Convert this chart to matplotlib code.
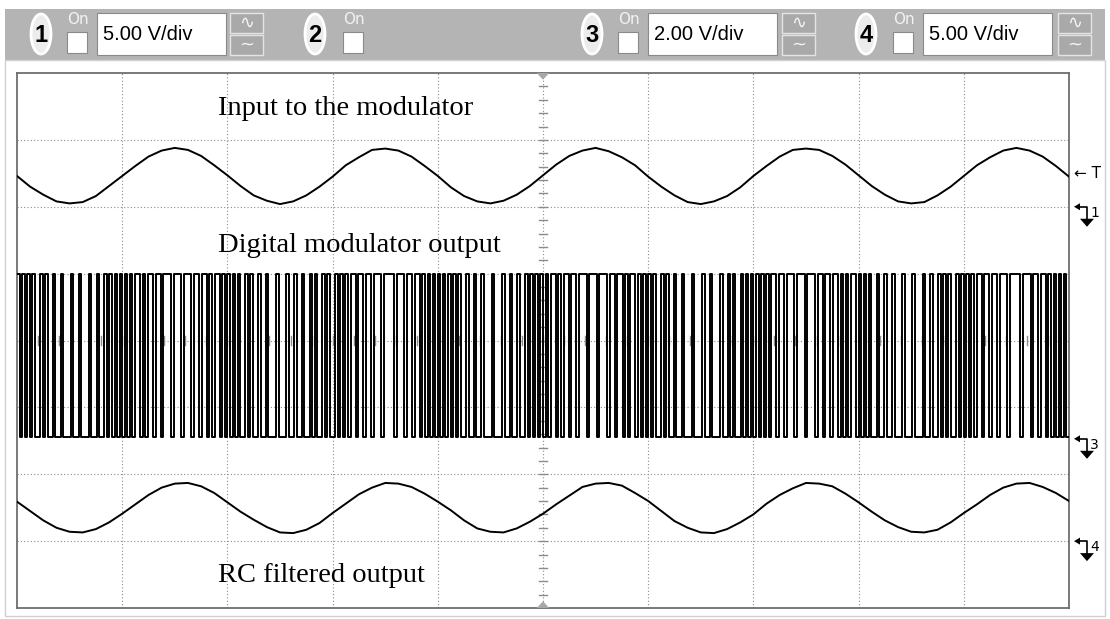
import matplotlib
matplotlib.use('Agg')
import matplotlib.pyplot as plt
from matplotlib.patches import Rectangle, Ellipse, Polygon

W, H = 1110, 619

# header: channel number, V/div box (None = channel without a scale box)
channels = ['1', '2', '3', '4']
volts_per_div = ['5.00 V/div', None, '2.00 V/div', '5.00 V/div']

labels = ['Input to the modulator', 'Digital modulator output', 'RC filtered output']

# sample positions along the screen, in divisions (1/8 div apart)
x_div = [i / 8 for i in range(81)]

# channel 1: modulator input, vertical position in divisions
input_wave = [
    6.46, 6.30, 6.18, 6.08, 6.05, 6.07, 6.16, 6.31, 6.46, 6.61, 6.75, 6.84, 6.88, 6.85, 6.76, 6.62,
    6.47, 6.31, 6.17, 6.09, 6.04, 6.08, 6.17, 6.30, 6.45, 6.62, 6.74, 6.85, 6.87, 6.84, 6.75, 6.61,
    6.46, 6.29, 6.16, 6.08, 6.05, 6.09, 6.18, 6.31, 6.47, 6.63, 6.76, 6.84, 6.88, 6.83, 6.74, 6.62,
    6.45, 6.30, 6.17, 6.07, 6.04, 6.08, 6.16, 6.29, 6.46, 6.61, 6.75, 6.85, 6.87, 6.85, 6.76, 6.63,
    6.47, 6.31, 6.18, 6.08, 6.05, 6.07, 6.17, 6.30, 6.46, 6.62, 6.74, 6.84, 6.88, 6.84, 6.75, 6.61,
    6.45,
]

# channel 4: RC filtered output
filtered_wave = [
    1.59, 1.45, 1.31, 1.20, 1.14, 1.13, 1.18, 1.28, 1.41, 1.55, 1.69, 1.80, 1.86, 1.87, 1.82, 1.72,
    1.58, 1.44, 1.32, 1.21, 1.13, 1.12, 1.17, 1.27, 1.42, 1.56, 1.70, 1.80, 1.87, 1.86, 1.81, 1.71,
    1.59, 1.46, 1.31, 1.19, 1.14, 1.13, 1.19, 1.29, 1.41, 1.55, 1.68, 1.81, 1.86, 1.87, 1.83, 1.72,
    1.60, 1.45, 1.30, 1.20, 1.13, 1.12, 1.18, 1.28, 1.40, 1.56, 1.69, 1.79, 1.87, 1.86, 1.82, 1.71,
    1.58, 1.44, 1.31, 1.21, 1.14, 1.13, 1.17, 1.28, 1.42, 1.55, 1.69, 1.80, 1.86, 1.87, 1.81, 1.72,
    1.60,
]

# channel 3: modulator bit stream, one string per horizontal division
bits = [
    '10101010010100100100010010001001001010101',
    '01010110101101101110111011101101101011010',
    '10101001010010010001000100100100101001010',
    '01010101101101101110111101110110110101010',
    '10101010100100100100010001001001001010101',
    '01011010110110111011101110110110101101010',
    '10100101001001000100010010001001010010101',
    '01010101101101110111011101101101101010110',
    '10101001001001000100010001001001010100101',
    '01010110110110111011110111011011010101010',
]
digital_low, digital_high = 2.56, 5.0

# ground reference markers on the right edge (channel, level in div)
ground_marks = [('1', 6.0), ('3', 2.53), ('4', 1.0)]
trigger_level = 6.49

fig = plt.figure(figsize=(W / 100, H / 100), dpi=100)

# pixel-space layer for the window chrome
bg = fig.add_axes([0, 0, 1, 1])
bg.set_xlim(0, W)
bg.set_ylim(H, 0)
bg.axis('off')

bg.add_patch(Rectangle((5, 9), 1100, 51, facecolor='#b4b4b4', edgecolor='none'))
bg.add_patch(Rectangle((5, 60), 1100, 556, facecolor='white', edgecolor='#d0d0d0', lw=1))

badge_x = [41, 315, 592, 866]
check_x = [67, 343, 618, 893]
box_x = [97, None, 648, 923]
btn_x = [230, None, 782, 1058]
for ch, vd, bx, cx, tx, kx in zip(channels, volts_per_div, badge_x, check_x, box_x, btn_x):
    bg.add_patch(Ellipse((bx, 34), 20, 40, facecolor='#ececec', edgecolor='white', lw=2))
    bg.text(bx, 35, ch, ha='center', va='center', fontsize=17, fontweight='bold',
            family=['Liberation Sans Narrow', 'Liberation Sans'], color='black')
    bg.text(cx, 20, 'On', ha='left', va='center', fontsize=11, color='#f2f2f2',
            family='DejaVu Sans')
    bg.add_patch(Rectangle((cx, 32), 20, 21, facecolor='white', edgecolor='#8a8a8a', lw=0.8))
    if vd is None:
        continue
    bg.add_patch(Rectangle((tx, 13), 129, 42, facecolor='white', edgecolor='#8a8a8a', lw=0.8))
    bg.text(tx + 6, 35, vd, ha='left', va='center', fontsize=14.5,
            family='Liberation Sans', color='black')
    for y0, glyph in [(13, '\u223f'), (35, '~')]:
        bg.add_patch(Rectangle((kx, y0), 33, 20, facecolor='#a9a9a9', edgecolor='#e4e4e4', lw=1))
        bg.text(kx + 16.5, y0 + 10, glyph, ha='center', va='center', fontsize=13,
                color='#f4f4f4', family='DejaVu Sans')

# scope screen, in divisions
L, R, T, B = 17, 1069, 73, 608
ax = fig.add_axes([L / W, 1 - B / H, (R - L) / W, (B - T) / H])
ax.set_zorder(2)
ax.set_xlim(0, 10)
ax.set_ylim(0, 8)
ax.set_xticks([])
ax.set_yticks([])
for s in ax.spines.values():
    s.set_color('#6e6e6e')
    s.set_linewidth(1.3)

grid_kw = dict(color='#8c8c8c', lw=0.8, ls=(0, (1, 2)), zorder=1)
for gx in range(1, 10):
    ax.axvline(gx, **grid_kw)
for gy in range(1, 8):
    ax.axhline(gy, **grid_kw)

# minor ticks on the centre axes
tick_kw = dict(color='#8c8c8c', lw=1, zorder=1)
for i in range(1, 40):
    ax.plot([4.96, 5.04], [i / 5, i / 5], **tick_kw)
for i in range(1, 50):
    ax.plot([i / 5, i / 5], [3.94, 4.06], **tick_kw)
ax.add_patch(Polygon([[4.94, 8], [5.06, 8], [5, 7.9]], closed=True,
                     facecolor='#a8a8a8', edgecolor='none', zorder=3))
ax.add_patch(Polygon([[4.94, 0], [5.06, 0], [5, 0.1]], closed=True,
                     facecolor='#a8a8a8', edgecolor='none', zorder=3))

ax.plot(x_div, input_wave, color='black', lw=1.4, zorder=4)
ax.plot(x_div, filtered_wave, color='black', lw=1.4, zorder=4)

dx, dy = [], []
for k, s in enumerate(bits):
    n = len(s)
    for i, b in enumerate(s):
        dx.append(k + i / n)
        dy.append(digital_high if b == '1' else digital_low)
dx.append(10)
dy.append(dy[-1])
ax.plot(dx, dy, drawstyle='steps-post', color='black', lw=1.4, zorder=4)

serif = ['Liberation Serif', 'DejaVu Serif']
ax.text(1.91, 7.37, labels[0], fontsize=20.5, family=serif, va='baseline', zorder=5)
ax.text(1.91, 5.32, labels[1], fontsize=20.5, family=serif, va='baseline', zorder=5)
ax.text(1.91, 0.39, labels[2], fontsize=20.5, family=serif, va='baseline', zorder=5)


def to_px(level):
    return B - level * (B - T) / 8


# trigger level arrow and ground markers
bg.text(1074, to_px(trigger_level), '\u2190 T', ha='left', va='center', fontsize=11,
        family='DejaVu Sans', color='black')
for ch, lvl in ground_marks:
    y0 = to_px(lvl)
    bg.plot([1078, 1087, 1087], [y0, y0, y0 + 13], color='black', lw=1.2)
    bg.add_patch(Polygon([[1074, y0], [1080, y0 - 3.5], [1080, y0 + 3.5]], closed=True,
                         facecolor='black', edgecolor='none'))
    bg.add_patch(Polygon([[1080, y0 + 12], [1094, y0 + 12], [1087, y0 + 20]], closed=True,
                         facecolor='black', edgecolor='none'))
    bg.text(1090, y0 + 6, ch, ha='left', va='center', fontsize=10, family='DejaVu Sans')

fig.savefig('out.png', dpi=100)
